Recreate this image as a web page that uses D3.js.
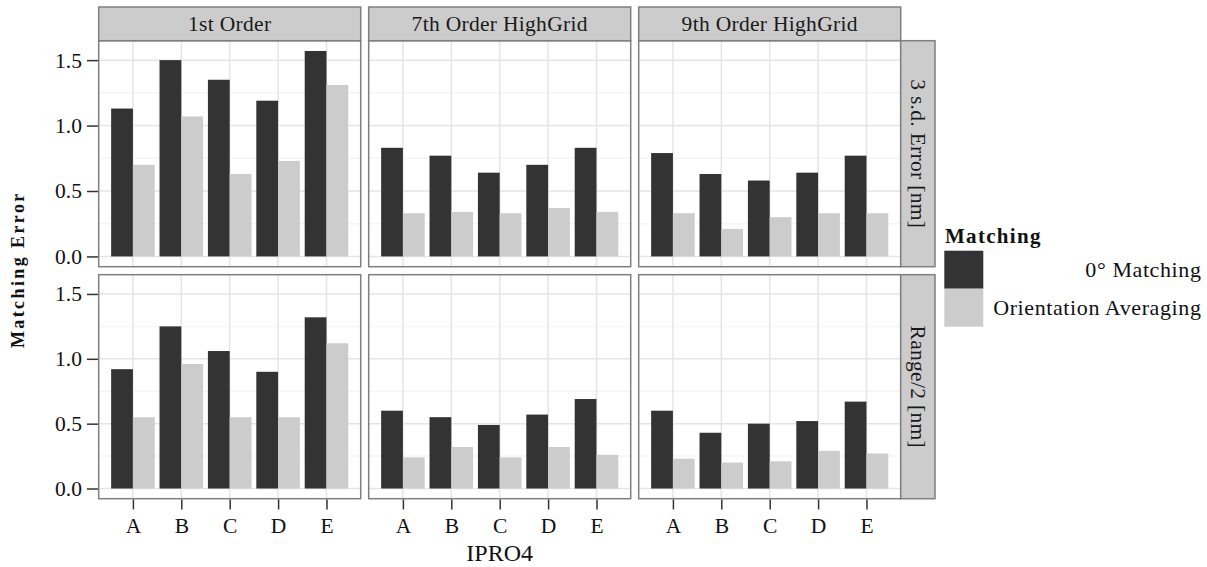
<!DOCTYPE html>
<html>
<head>
<meta charset="utf-8">
<script src="https://cdn.jsdelivr.net/npm/d3@7"></script>
<style>
  html, body { margin: 0; padding: 0; background: #fff; }
  svg text { font-family: "Liberation Serif", "Times New Roman", serif !important; }
</style>
</head>
<body>
<div id="chart"></div>
<script>
// ---------- data ----------
const categories = ["A", "B", "C", "D", "E"];
const columnLabels = ["1st Order", "7th Order HighGrid", "9th Order HighGrid"];
const rowLabels = ["3 s.d. Error [nm]", "Range/2 [nm]"];
const seriesNames = ["0° Matching", "Orientation Averaging"];
const yTicks = [0.0, 0.5, 1.0, 1.5];
const yMinorTicks = [0.25, 0.75, 1.25];

// row 1: 3 s.d. Error
const sd_1st_matching  = [1.13, 1.50, 1.35, 1.19, 1.57];
const sd_1st_averaging = [0.70, 1.07, 0.63, 0.73, 1.31];
const sd_7th_matching  = [0.83, 0.77, 0.64, 0.70, 0.83];
const sd_7th_averaging = [0.33, 0.34, 0.33, 0.37, 0.34];
const sd_9th_matching  = [0.79, 0.63, 0.58, 0.64, 0.77];
const sd_9th_averaging = [0.33, 0.21, 0.30, 0.33, 0.33];
// row 2: Range/2
const rg_1st_matching  = [0.92, 1.25, 1.06, 0.90, 1.32];
const rg_1st_averaging = [0.55, 0.96, 0.55, 0.55, 1.12];
const rg_7th_matching  = [0.60, 0.55, 0.49, 0.57, 0.69];
const rg_7th_averaging = [0.24, 0.32, 0.24, 0.32, 0.26];
const rg_9th_matching  = [0.60, 0.43, 0.50, 0.52, 0.67];
const rg_9th_averaging = [0.23, 0.20, 0.21, 0.29, 0.27];

const panelData = [
  [[sd_1st_matching, sd_1st_averaging], [sd_7th_matching, sd_7th_averaging], [sd_9th_matching, sd_9th_averaging]],
  [[rg_1st_matching, rg_1st_averaging], [rg_7th_matching, rg_7th_averaging], [rg_9th_matching, rg_9th_averaging]]
];

// ---------- layout ----------
const W = 1207, H = 567;
const colors = ["#333333", "#cccccc"];
const panelX = [98.7, 368.7, 638.7];
const panelW = 262;
const rowY = [40.7, 274.7];
const rowH = [226, 224];
const stripTop = 7;
const stripRightW = 34.3;
const border = "#7f7f7f";

const svg = d3.select("#chart").append("svg")
  .attr("width", W).attr("height", H);

const allVals = panelData.flat(3);
const yMax = d3.max(allVals);
const pad = yMax * 0.05;
const yDomain = [-pad, yMax + pad];

panelData.forEach((row, ri) => {
  const y = d3.scaleLinear().domain(yDomain).range([rowY[ri] + rowH[ri], rowY[ri]]);
  row.forEach((series, ci) => {
    const x0 = panelX[ci];
    const x = d3.scalePoint().domain(categories).range([x0, x0 + panelW]).padding(0.707);
    const step = x.step();
    const bw = step * 0.45;
    const g = svg.append("g");

    g.append("rect").attr("x", x0).attr("y", rowY[ri]).attr("width", panelW).attr("height", rowH[ri])
      .attr("fill", "#fff");
    g.selectAll(".minor").data(yMinorTicks).enter().append("line")
      .attr("x1", x0).attr("x2", x0 + panelW)
      .attr("y1", d => y(d)).attr("y2", d => y(d))
      .attr("stroke", "#f5f5f5").attr("stroke-width", 1.5);
    g.selectAll(".major").data(yTicks).enter().append("line")
      .attr("x1", x0).attr("x2", x0 + panelW)
      .attr("y1", d => y(d)).attr("y2", d => y(d))
      .attr("stroke", "#e5e5e5").attr("stroke-width", 1.5);
    g.selectAll(".vgrid").data(categories).enter().append("line")
      .attr("x1", d => x(d)).attr("x2", d => x(d))
      .attr("y1", rowY[ri]).attr("y2", rowY[ri] + rowH[ri])
      .attr("stroke", "#e5e5e5").attr("stroke-width", 1.5);

    series.forEach((vals, si) => {
      g.selectAll(".bar" + si).data(vals).enter().append("rect")
        .attr("x", (d, i) => x(categories[i]) - bw + si * bw)
        .attr("width", bw)
        .attr("y", d => y(d))
        .attr("height", d => y(0) - y(d))
        .attr("fill", colors[si]);
    });

    g.append("rect").attr("x", x0).attr("y", rowY[ri]).attr("width", panelW).attr("height", rowH[ri])
      .attr("fill", "none").attr("stroke", border).attr("stroke-width", 1.5);

    if (ci === 0) {
      const ax = svg.append("g").attr("transform", `translate(${x0 - 0.75},0)`)
        .call(d3.axisLeft(y).tickValues(yTicks).tickFormat(d3.format(".1f")).tickSize(11).tickPadding(5));
      ax.attr("font-family", null);
      ax.select(".domain").remove();
      ax.selectAll(".tick line").attr("stroke", "#333").attr("stroke-width", 1.5);
      ax.selectAll(".tick text").attr("font-size", 21.5).attr("fill", "#111");
    }
    if (ri === 1) {
      const ax = svg.append("g").attr("transform", `translate(0,${rowY[ri] + rowH[ri] + 0.75})`)
        .call(d3.axisBottom(x).tickSize(10).tickPadding(8));
      ax.attr("font-family", null);
      ax.select(".domain").remove();
      ax.selectAll(".tick line").attr("stroke", "#333").attr("stroke-width", 1.5);
      ax.selectAll(".tick text").attr("font-size", 21.5).attr("fill", "#111");
    }
    if (ri === 0) {
      svg.append("rect").attr("x", x0).attr("y", stripTop).attr("width", panelW).attr("height", rowY[0] - stripTop)
        .attr("fill", "#cccccc").attr("stroke", border).attr("stroke-width", 1.5);
      svg.append("text").attr("x", x0 + panelW / 2).attr("y", (stripTop + rowY[0]) / 2)
        .attr("text-anchor", "middle").attr("dominant-baseline", "central")
        .attr("font-size", 21.5).attr("fill", "#1a1a1a").style("letter-spacing", "0.3px")
        .text(columnLabels[ci]);
    }
    if (ci === 2) {
      const sx = x0 + panelW;
      svg.append("rect").attr("x", sx).attr("y", rowY[ri]).attr("width", stripRightW).attr("height", rowH[ri])
        .attr("fill", "#cccccc").attr("stroke", border).attr("stroke-width", 1.5);
      svg.append("text")
        .attr("transform", `translate(${sx + stripRightW / 2},${rowY[ri] + rowH[ri] / 2}) rotate(90)`)
        .attr("text-anchor", "middle").attr("dominant-baseline", "central")
        .attr("font-size", 21.5).attr("fill", "#1a1a1a").style("letter-spacing", "0.3px")
        .text(rowLabels[ri]);
    }
  });
});

const plotCx = (panelX[0] + panelX[2] + panelW) / 2;
svg.append("text").attr("x", plotCx).attr("y", 561)
  .attr("text-anchor", "middle").attr("font-size", 24).attr("fill", "#111")
  .text("IPRO4");
svg.append("text")
  .attr("transform", `translate(24,${(rowY[0] + rowY[1] + rowH[1]) / 2}) rotate(-90)`)
  .attr("text-anchor", "middle").attr("font-size", 18).attr("font-weight", "bold").attr("fill", "#111")
  .style("letter-spacing", "2.4px")
  .text("Matching Error");

const lg = svg.append("g");
lg.append("text").attr("x", 945).attr("y", 243)
  .attr("font-size", 21).attr("font-weight", "bold").attr("fill", "#111").style("letter-spacing", "1.3px")
  .text("Matching");
const keyY = [250.7, 288.7];
seriesNames.forEach((name, i) => {
  lg.append("rect").attr("x", 944.3).attr("y", keyY[i]).attr("width", 39).attr("height", 38)
    .attr("fill", colors[i]);
  lg.append("text").attr("x", 1201.5).attr("y", keyY[i] + 19)
    .attr("text-anchor", "end").attr("dominant-baseline", "central")
    .attr("font-size", 22).attr("fill", "#111").style("letter-spacing", "0.6px")
    .text(name);
});
</script>
</body>
</html>
